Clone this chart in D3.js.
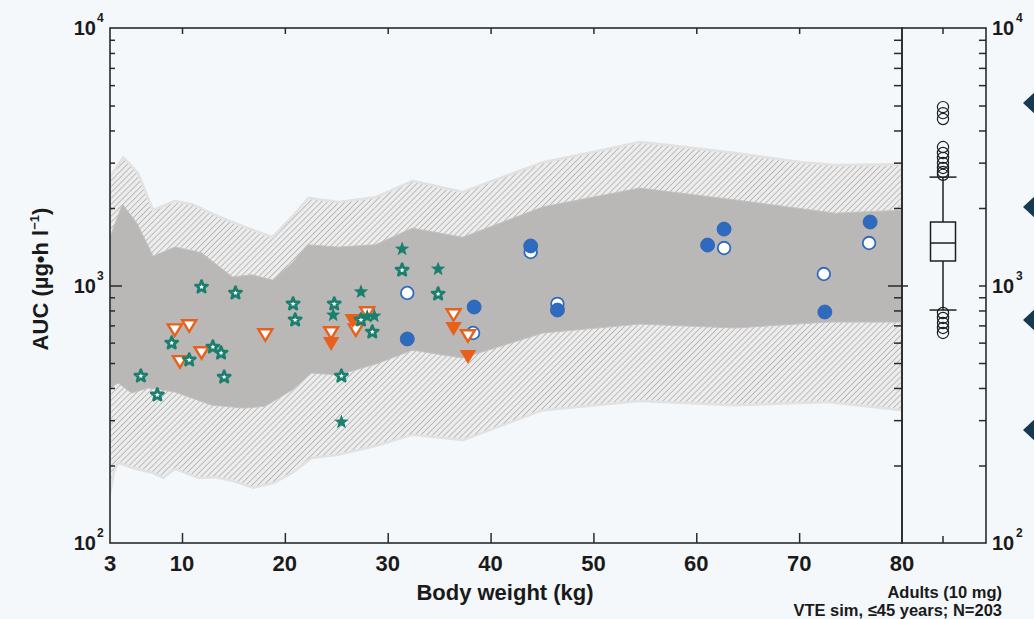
<!DOCTYPE html>
<html><head><meta charset="utf-8">
<script src="https://cdn.jsdelivr.net/npm/d3@7"></script>
<style>
html,body{margin:0;padding:0;background:#f5f8fb;}
svg{display:block;}
text{font-family:"Liberation Sans",Arial,Helvetica,sans-serif;font-weight:bold;fill:#1a1a1a;}
</style></head><body>
<svg id="chart" width="1034" height="619"></svg>
<script>
// ---- simulated AUC bands by body weight: [weight kg, AUC µg·h/l] ----
const outerHi = [[3,2640],[4.3,3150],[5.7,2740],[7.2,1960],[9.3,2130],[11,2070],[13.2,1880],[16.1,1690],[18.8,1540],[20.7,1850],[22.3,2190],[25.2,2110],[28.8,2200],[32.4,2550],[37.3,2310],[45.1,3010],[50.9,3360],[54.5,3610],[57.3,3510],[63.8,3270],[70.3,3010],[73.5,2940],[80,2960]];
const innerHi = [[3,1540],[4.2,2070],[5.6,1750],[7.2,1300],[9.3,1410],[11.9,1340],[14.9,1080],[16.8,1100],[18.8,1050],[20.7,1220],[22.2,1440],[25.2,1410],[28.8,1440],[32.4,1670],[37.3,1540],[45.1,2020],[54.5,2390],[63.8,2150],[73.5,1910],[80,1960]];
const innerLo = [[3,400],[3.8,418],[5.1,382],[6.7,400],[9.3,386],[12.9,343],[16.1,334],[18.1,340],[20.7,393],[22.6,457],[25.2,449],[28.8,495],[32.4,561],[37.3,523],[45.1,654],[54.5,708],[63.8,684],[72.8,721],[80,721]];
const outerLo = [[3,155],[3.4,190],[3.8,205],[5.1,196],[7.2,187],[8.2,179],[9.3,194],[11.6,179],[13.2,180],[15,174],[16.9,164],[18.9,171],[20.7,187],[22.6,214],[25.2,220],[28.8,238],[32.4,263],[37.3,251],[45.1,328],[54.5,356],[63.8,343],[72.8,353],[80,328]];

// ---- observed pediatric AUC values ----
const openStarW = [6.0,7.6,9.0,10.7,11.9,13.0,13.8,14.1,15.2,20.8,21.0,24.8,25.5,27.4,28.5,31.4,34.9];
const openStarV = [445,376,598,514,987,577,547,441,935,848,735,848,445,735,660,1148,927];
const filledStarW = [24.7,25.5,27.4,28.0,28.7,31.4,34.9];
const filledStarV = [768,295,944,757,761,1386,1159];
const openTriW = [9.3,10.7,9.8,11.9,18.1,24.5,26.9,28.0,36.4,37.8];
const openTriV = [671,696,505,547,642,654,671,782,768,637];
const filledTriW = [24.5,26.6,36.4,37.8];
const filledTriV = [593,728,678,528];
const openCircW = [31.9,38.3,43.9,46.5,62.7,72.4,76.8];
const openCircV = [935,654,1349,848,1398,1108,1462];
const filledCircW = [31.9,38.4,43.9,46.5,61.1,62.7,72.5,76.9];
const filledCircV = [620,825,1424,803,1436,1656,789,1764];

// ---- adult reference box plot (10 mg) ----
const boxStats = {lo:803, q1:1245, med:1462, q3:1764, hi:2636};
const boxOutliers = [4930,4670,4430,3450,3270,3130,2990,2860,2760,2690,782,748,715,684,654];

// ---- axis ticks ----
const xTickLabels = [3,10,20,30,40,50,60,70,80];
const xInnerTicks = [10,20,30,40,50,60,70];
const yMajor = [100,1000,10000];
const yExps = ["2","3","4"];
const yMinor = [200,300,400,500,600,700,800,900,2000,3000,4000,5000,6000,7000,8000,9000];
const bulletRows = [103,207,320,430];

const svg = d3.select("#chart");
const L = 110, R = 902, T = 28, B = 543, PR = 986, boxX = 943;
const x = d3.scaleLinear().domain([3,80]).range([L,R]);
const y = d3.scaleLog().domain([100,10000]).range([B,T]);

// hatch pattern for the outer band
const defs = svg.append("defs");
const pat = defs.append("pattern").attr("id","hatch").attr("patternUnits","userSpaceOnUse")
  .attr("width",4.2).attr("height",4.2).attr("patternTransform","rotate(45)");
pat.append("rect").attr("width",4.2).attr("height",4.2).attr("fill","#ececec");
pat.append("line").attr("x1",0).attr("y1",0).attr("x2",0).attr("y2",4.2)
  .attr("stroke","#a8a8a8").attr("stroke-width",1.4);
defs.append("clipPath").attr("id","plotClip").append("rect")
  .attr("x",L).attr("y",T).attr("width",R-L).attr("height",B-T);

const area = (hi, lo) => {
  const pts = hi.concat(lo.slice().reverse());
  return d3.line().x(d=>x(d[0])).y(d=>y(d[1]))(pts) + "Z";
};
const bands = svg.append("g").attr("clip-path","url(#plotClip)");
bands.append("path").attr("d",area(outerHi,outerLo)).attr("fill","url(#hatch)")
  .attr("stroke","#e2e2e2").attr("stroke-width",2.5).attr("stroke-linejoin","round");
bands.append("path").attr("d",area(innerHi,innerLo)).attr("fill","#bab8b7")
  .attr("stroke","#c4c2c1").attr("stroke-width",1);

// axes
const noDomain = g => g.select(".domain").remove();
const tickStyle = g => g.selectAll("line").attr("stroke","#2a2a2a").attr("stroke-width",1.5);
svg.append("g").attr("transform",`translate(0,${B})`)
  .call(d3.axisBottom(x).tickValues(xInnerTicks).tickSize(-10).tickFormat(""))
  .call(noDomain).call(tickStyle);
svg.append("g").attr("transform",`translate(0,${T})`)
  .call(d3.axisTop(x).tickValues(xInnerTicks).tickSize(-6).tickFormat(""))
  .call(noDomain).call(tickStyle);
svg.append("g").attr("transform",`translate(${L},0)`)
  .call(d3.axisLeft(y).tickValues(yMinor).tickSize(-5).tickFormat(""))
  .call(noDomain).call(tickStyle);
svg.append("g").attr("transform",`translate(${L},0)`)
  .call(d3.axisLeft(y).tickValues([1000]).tickSize(-12).tickFormat(""))
  .call(noDomain).call(tickStyle);
svg.append("g").attr("transform",`translate(${R},0)`)
  .call(d3.axisRight(y).tickValues(yMinor).tickSize(-8).tickFormat(""))
  .call(noDomain).call(tickStyle);
svg.append("g").attr("transform",`translate(${R+6},0)`)
  .call(d3.axisRight(y).tickValues([1000]).tickSize(-20).tickFormat(""))
  .call(noDomain).call(tickStyle);
svg.append("g").attr("transform",`translate(${PR},0)`)
  .call(d3.axisRight(y).tickValues(yMinor.concat([1000])).tickSize(-7).tickFormat(""))
  .call(noDomain).call(tickStyle);
// box panel centre ticks
svg.append("line").attr("x1",boxX).attr("x2",boxX).attr("y1",T).attr("y2",T+6).attr("stroke","#2a2a2a").attr("stroke-width",1.5);
svg.append("line").attr("x1",boxX).attr("x2",boxX).attr("y1",B).attr("y2",B-7).attr("stroke","#2a2a2a").attr("stroke-width",1.5);

// frames
svg.append("rect").attr("x",L).attr("y",T).attr("width",R-L).attr("height",B-T)
  .attr("fill","none").attr("stroke","#2a2a2a").attr("stroke-width",1.6);
svg.append("rect").attr("x",R).attr("y",T).attr("width",PR-R).attr("height",B-T)
  .attr("fill","none").attr("stroke","#2a2a2a").attr("stroke-width",1.6);

// x tick labels
svg.append("g").selectAll("text").data(xTickLabels).join("text")
  .attr("x",d=>x(d)).attr("y",571).attr("text-anchor","middle")
  .attr("font-size",22).text(d=>d);

// y tick labels with exponents, both sides
yMajor.forEach((v,i)=>{
  const yy = y(v);
  svg.append("text").attr("x",96).attr("y",yy+7).attr("text-anchor","end").attr("font-size",20).text("10");
  svg.append("text").attr("x",97).attr("y",yy-6).attr("font-size",12).text(yExps[i]);
  svg.append("text").attr("x",992).attr("y",yy+7).attr("font-size",20).text("10");
  svg.append("text").attr("x",1016).attr("y",yy-6).attr("font-size",12).text(yExps[i]);
});

// axis titles
svg.append("text").attr("x",505).attr("y",600).attr("text-anchor","middle").attr("font-size",22)
  .text("Body weight (kg)");
const yt = svg.append("text").attr("transform","translate(48,279) rotate(-90)")
  .attr("text-anchor","middle").attr("font-size",22);
yt.append("tspan").text("AUC (µg•h l");
yt.append("tspan").attr("font-size",13).attr("dy",-9).text("−1");
yt.append("tspan").attr("dy",9).text(")");
svg.append("text").attr("x",1002).attr("y",598).attr("text-anchor","end").attr("font-size",16.5)
  .text("Adults (10 mg)");
svg.append("text").attr("x",1002).attr("y",616).attr("text-anchor","end").attr("font-size",16.5)
  .text("VTE sim, ≤45 years; N=203");

// markers
const TEAL = "#1a7f6c", ORANGE = "#e8601c", BLUE = "#2e6bc0";
const zip = (w,v) => w.map((d,i)=>[d,v[i]]);
const starPath = R0 => {
  const r0 = R0*0.42, p = [];
  for (let i=0;i<10;i++){ const a=-Math.PI/2+i*Math.PI/5, rr=i%2?r0:R0; p.push([rr*Math.cos(a), rr*Math.sin(a)]); }
  return "M"+p.map(q=>q.join(",")).join("L")+"Z";
};
const triPath = (W,H) => `M${-W/2},${-H/2}L${W/2},${-H/2}L0,${H/2}Z`;
const pts = svg.append("g").attr("clip-path","url(#plotClip)");

pts.selectAll(".oc").data(zip(openCircW,openCircV)).join("circle").attr("class","oc")
  .attr("cx",d=>x(d[0])).attr("cy",d=>y(d[1])).attr("r",6.3)
  .attr("fill","#fff").attr("stroke",BLUE).attr("stroke-width",1.8);
pts.selectAll(".fc").data(zip(filledCircW,filledCircV)).join("circle").attr("class","fc")
  .attr("cx",d=>x(d[0])).attr("cy",d=>y(d[1])).attr("r",7)
  .attr("fill",BLUE).attr("stroke","#2a5fae").attr("stroke-width",0.8);
pts.selectAll(".ot").data(zip(openTriW,openTriV)).join("path").attr("class","ot")
  .attr("transform",d=>`translate(${x(d[0])},${y(d[1])})`).attr("d",triPath(14,11.5))
  .attr("fill","#fff").attr("stroke",ORANGE).attr("stroke-width",2.4).attr("stroke-linejoin","miter");
pts.selectAll(".ft").data(zip(filledTriW,filledTriV)).join("path").attr("class","ft")
  .attr("transform",d=>`translate(${x(d[0])},${y(d[1])})`).attr("d",triPath(16.5,14))
  .attr("fill",ORANGE);
pts.selectAll(".os").data(zip(openStarW,openStarV)).join("path").attr("class","os")
  .attr("transform",d=>`translate(${x(d[0])},${y(d[1])})`).attr("d",starPath(6.4))
  .attr("fill","#fff").attr("stroke",TEAL).attr("stroke-width",2.7).attr("stroke-linejoin","round");
pts.selectAll(".fs").data(zip(filledStarW,filledStarV)).join("path").attr("class","fs")
  .attr("transform",d=>`translate(${x(d[0])},${y(d[1])})`).attr("d",starPath(7.6))
  .attr("fill",TEAL);

// adult box plot
const bw = 25, cw = 27, bx = svg.append("g").attr("stroke","#1f1f1f").attr("stroke-width",1.5);
bx.append("line").attr("x1",boxX).attr("x2",boxX).attr("y1",y(boxStats.hi)).attr("y2",y(boxStats.q3));
bx.append("line").attr("x1",boxX).attr("x2",boxX).attr("y1",y(boxStats.q1)).attr("y2",y(boxStats.lo));
bx.append("line").attr("x1",boxX-cw/2).attr("x2",boxX+cw/2).attr("y1",y(boxStats.hi)).attr("y2",y(boxStats.hi));
bx.append("line").attr("x1",boxX-cw/2).attr("x2",boxX+cw/2).attr("y1",y(boxStats.lo)).attr("y2",y(boxStats.lo));
bx.append("rect").attr("x",boxX-bw/2).attr("y",y(boxStats.q3)).attr("width",bw)
  .attr("height",y(boxStats.q1)-y(boxStats.q3)).attr("fill","none");
bx.append("line").attr("x1",boxX-bw/2).attr("x2",boxX+bw/2).attr("y1",y(boxStats.med)).attr("y2",y(boxStats.med));
bx.selectAll(".out").data(boxOutliers).join("circle").attr("class","out")
  .attr("cx",boxX).attr("cy",d=>y(d)).attr("r",5.6).attr("fill","none").attr("stroke-width",1.2);

// bullet diamonds along the right edge
svg.append("g").selectAll("path").data(bulletRows).join("path")
  .attr("d",d=>`M1023,${d}L1036,${d-12}L1049,${d}L1036,${d+12}Z`).attr("fill","#163a52");
</script>
</body></html>
